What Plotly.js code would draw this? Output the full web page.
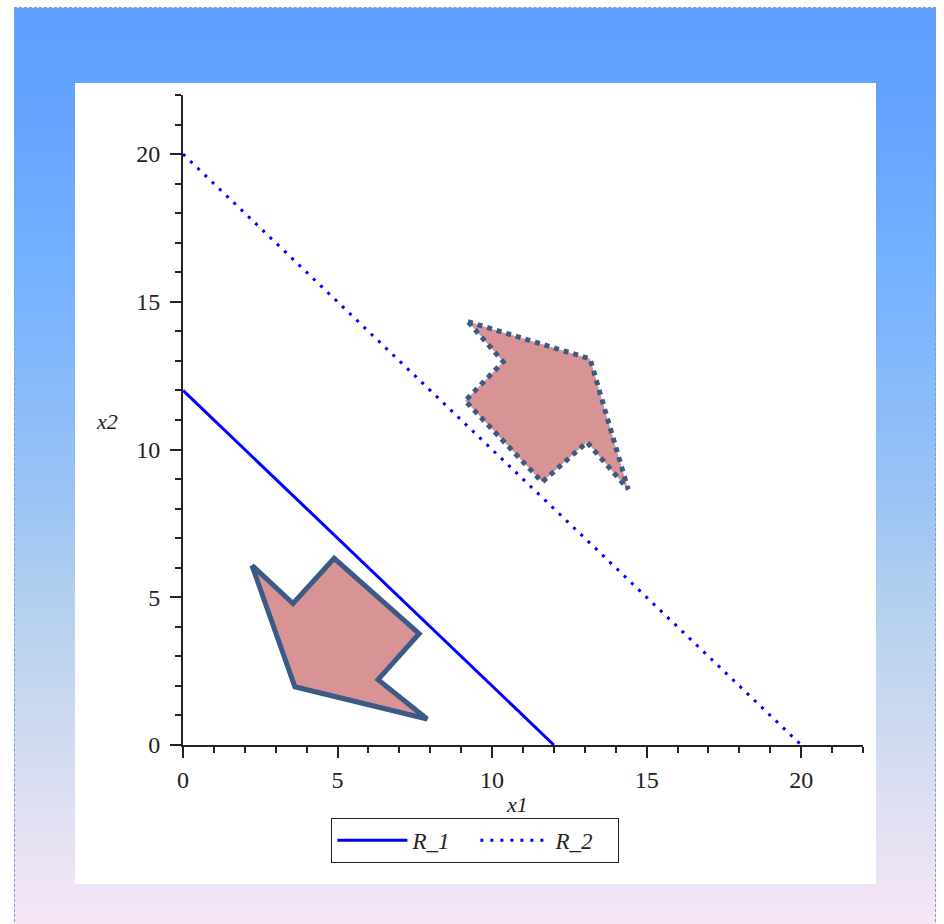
<!DOCTYPE html>
<html>
<head>
<meta charset="utf-8">
<script src="https://cdn.plot.ly/plotly-3.0.1.min.js"></script>
<style>
  html, body { margin: 0; padding: 0; background: #ffffff; width: 944px; height: 924px; overflow: hidden; }
  #bg {
    position: absolute; left: 14px; top: 7px; width: 922px; height: 920px;
    border: 1px dashed #7f9bd0; box-sizing: border-box;
    background: linear-gradient(to bottom, #5e9eff 0%, #62a2ff 9%, #78b4ff 32%, #9cc4f4 54%, #b4d0ee 65%, #e0e0f2 88%, #f7e6f6 100%);
  }
  #chart { position: absolute; left: 75px; top: 83px; width: 801px; height: 801px; background: #fff; }
</style>
</head>
<body>
<div id="bg"></div>
<div id="chart"></div>
<script>
// Constraint lines
const R1_x = [0, 12];
const R1_y = [12, 0];
const R2_x = [0, 20];
const R2_y = [20, 0];

// Arrow polygons (vertices)
const arrowLow_x = [2.23, 3.56, 4.89, 7.64, 6.31, 7.90, 3.62, 2.23];
const arrowLow_y = [6.08, 4.79, 6.32, 3.77, 2.21, 0.88, 1.97, 6.08];
const arrowHigh_x = [9.22, 13.17, 14.40, 13.07, 11.62, 9.13, 10.36, 9.22];
const arrowHigh_y = [14.33, 13.07, 8.66, 10.25, 8.90, 11.65, 12.97, 14.33];

const seriesNames = ["R_1", "R_2"];
const xTitle = "x1";
const yTitle = "x2";

const SERIF = "Liberation Serif, Times New Roman, serif";
const tickFont = { family: SERIF, size: 24, color: "#222222" };

const traces = [
  { x: arrowLow_x, y: arrowLow_y, type: "scatter", mode: "lines", fill: "toself",
    fillcolor: "#d89494", line: { color: "#3b5b86", width: 5 }, showlegend: false, hoverinfo: "skip" },
  { x: arrowHigh_x, y: arrowHigh_y, type: "scatter", mode: "lines", fill: "toself",
    fillcolor: "#d89494", line: { color: "#3b5b86", width: 5, dash: "5px,5px" }, showlegend: false, hoverinfo: "skip" },
  { x: R1_x, y: R1_y, type: "scatter", mode: "lines", name: seriesNames[0],
    line: { color: "#0000ff", width: 3 } },
  { x: R2_x, y: R2_y, type: "scatter", mode: "lines", name: seriesNames[1],
    line: { color: "#0000ff", width: 3, dash: "3px,7px" } }
];

const axisCommon = {
  range: [0, 22], dtick: 5, tick0: 0, ticks: "outside", ticklen: 11, tickwidth: 2, tickcolor: "#222",
  showline: true, linecolor: "#222", linewidth: 2, showgrid: false, zeroline: false,
  tickfont: tickFont, fixedrange: true,
  minor: { dtick: 1, tick0: 0, ticks: "outside", ticklen: 6, tickwidth: 2, tickcolor: "#222", showgrid: false }
};

const layout = {
  width: 801, height: 801,
  margin: { l: 108, r: 13, t: 12, b: 139 },
  paper_bgcolor: "#ffffff", plot_bgcolor: "#ffffff",
  xaxis: Object.assign({}, axisCommon, { ticklabelstandoff: 1 }),
  yaxis: Object.assign({}, axisCommon, { ticklabelstandoff: 5 }),
  showlegend: true,
  legend: {
    orientation: "h", x: 0.43, xanchor: "center", y: -0.112, yanchor: "top",
    bordercolor: "#222", borderwidth: 1, bgcolor: "#ffffff",
    font: { family: SERIF, size: 23, color: "#222", style: "italic" },
    itemwidth: 70, entrywidth: 58, tracegroupgap: 0
  },
  annotations: [
    { text: xTitle, xref: "paper", yref: "paper", x: 0.491, y: -0.092, xanchor: "center", yanchor: "middle",
      showarrow: false, font: { family: SERIF, size: 22, color: "#222", style: "italic" } },
    { text: yTitle, xref: "paper", yref: "paper", x: -0.112, y: 0.497, xanchor: "center", yanchor: "middle",
      showarrow: false, font: { family: SERIF, size: 22, color: "#222", style: "italic" } }
  ]
};

Plotly.newPlot("chart", traces, layout, { staticPlot: true, displayModeBar: false });
</script>
</body>
</html>
